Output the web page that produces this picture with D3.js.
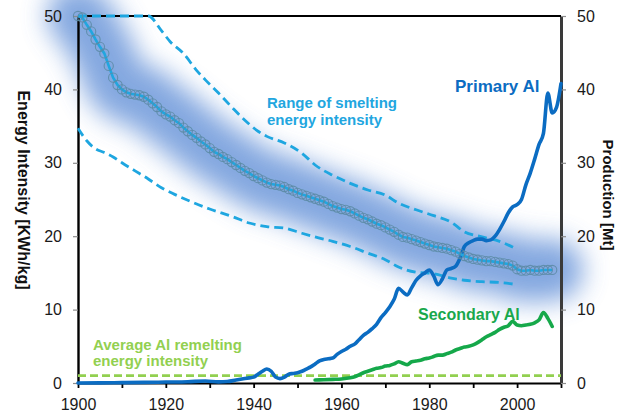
<!DOCTYPE html>
<html>
<head>
<meta charset="utf-8">
<script src="https://cdn.jsdelivr.net/npm/d3@7"></script>
<style>
  html, body { margin: 0; padding: 0; background: #fff; }
  svg { display: block; font-family: "Liberation Sans", Arial, sans-serif; }
</style>
</head>
<body>
<svg id="chart" width="617" height="414"></svg>
<script>
// Average smelting energy intensity, one value per year from 1900
const intensityFirstYear = 1900;
const intensityValues = [
  50.0, 49.8, 48.8, 47.9, 46.8, 45.8, 44.9, 43.2, 41.6, 40.6,
  40.0, 39.6, 39.4, 39.3, 39.2, 39.0, 38.6, 38.1, 37.6, 37.0,
  36.6, 36.3, 35.8, 35.4, 34.8, 34.3, 33.8, 33.4, 32.9, 32.5,
  32.0, 31.5, 31.2, 30.8, 30.5, 30.1, 29.7, 29.3, 28.9, 28.6,
  28.2, 27.9, 27.6, 27.3, 27.1, 27.0, 26.9, 26.7, 26.4, 26.2,
  25.9, 25.7, 25.5, 25.3, 25.1, 24.9, 24.7, 24.4, 24.1, 23.9,
  23.7, 23.6, 23.4, 23.1, 22.8, 22.5, 22.3, 22.0, 21.7, 21.5,
  21.2, 20.9, 20.6, 20.2, 19.9, 19.8, 19.6, 19.4, 19.2, 19.0,
  18.8, 18.6, 18.5, 18.4, 18.3, 18.1, 17.9, 17.6, 17.3, 17.1,
  16.9, 16.8, 16.7, 16.6, 16.6, 16.5, 16.4, 16.3, 16.2, 16.0,
  15.5, 15.3, 15.3, 15.4, 15.3, 15.3, 15.4, 15.4, 15.4
];

// Upper and lower bounds of smelting energy intensity
const rangeHighYears  = [1900, 1916, 1919, 1921, 1924, 1927, 1929, 1932, 1935, 1938, 1941, 1943, 1947, 1951, 1954, 1958, 1962, 1966, 1970, 1973, 1977, 1981, 1985, 1988, 1992, 1996, 2000];
const rangeHighValues = [50.0, 50.0, 48.0, 46.5, 44.9, 42.6, 41.3, 39.5, 37.6, 35.8, 34.3, 33.6, 32.7, 31.3, 29.7, 28.3, 27.2, 26.3, 25.6, 24.5, 23.6, 22.8, 21.9, 20.6, 19.9, 19.3, 18.2];
const rangeLowYears   = [1900, 1902, 1904, 1906, 1908, 1910, 1913, 1916, 1919, 1922, 1925, 1930, 1935, 1939, 1943, 1947, 1951, 1954, 1958, 1962, 1966, 1970, 1973, 1977, 1981, 1985, 1988, 1992, 1996, 2000];
const rangeLowValues  = [34.7, 33.0, 31.9, 31.4, 30.8, 30.0, 28.9, 27.8, 26.6, 25.7, 24.9, 23.7, 22.7, 21.8, 21.3, 21.1, 20.4, 19.9, 19.3, 18.6, 17.7, 16.8, 15.8, 15.1, 14.9, 14.3, 14.0, 13.8, 13.7, 13.4];

// Average remelting energy intensity (KWh/kg)
const remeltingIntensity = 1.0;

// Primary aluminium production (Mt)
const primaryYears = [
  1900, 1905, 1910, 1915, 1920, 1925, 1929, 1932, 1934, 1936, 1937, 1938, 1939, 1940,
  1941, 1942, 1943, 1944, 1945, 1946, 1947, 1948, 1949, 1950, 1951, 1952, 1953, 1954,
  1955, 1956, 1957, 1958, 1959, 1960, 1961, 1962, 1963, 1964, 1965, 1966, 1967, 1968,
  1969, 1970, 1971, 1972, 1973, 1974, 1975, 1976, 1977, 1978, 1979, 1980, 1981, 1982,
  1983, 1984, 1985, 1986, 1987, 1988, 1989, 1990, 1991, 1992, 1993, 1994, 1995, 1996,
  1997, 1998, 1999, 2000, 2001, 2002, 2003, 2004, 2005, 2006, 2007, 2008, 2009, 2010
];
const primaryValues = [
  0.0, 0.02, 0.05, 0.08, 0.13, 0.18, 0.28, 0.15, 0.2, 0.4, 0.5, 0.6, 0.7, 0.8,
  1.2, 1.6, 1.9, 1.6, 0.8, 0.6, 0.8, 1.2, 1.3, 1.4, 1.6, 1.9, 2.2, 2.6,
  3.0, 3.2, 3.3, 3.4, 3.9, 4.3, 4.6, 5.0, 5.3, 5.9, 6.5, 6.9, 7.4, 8.0,
  8.9, 9.6, 10.4, 11.4, 12.9, 12.4, 12.0, 13.0, 14.0, 14.6, 15.0, 15.4, 14.6, 13.4,
  14.2, 15.4, 15.6, 15.9, 17.0, 18.6, 19.1, 19.4, 19.6, 19.6, 19.4, 19.5, 20.0, 20.9,
  22.0, 23.2, 24.0, 24.3, 25.0, 27.0, 28.6, 30.5, 32.5, 34.0, 39.5, 36.8, 37.6, 40.8
];

// Secondary aluminium production (Mt)
const secondaryYears = [
  1954, 1956, 1958, 1960, 1962, 1963, 1964, 1965, 1966, 1967, 1968, 1969, 1970, 1971,
  1972, 1973, 1974, 1975, 1976, 1977, 1978, 1979, 1980, 1981, 1982, 1983, 1984, 1985,
  1986, 1987, 1988, 1989, 1990, 1991, 1992, 1993, 1994, 1995, 1996, 1997, 1998, 1999,
  2000, 2001, 2002, 2003, 2004, 2005, 2006, 2007, 2008
];
const secondaryValues = [
  0.4, 0.45, 0.5, 0.55, 0.7, 0.85, 1.1, 1.4, 1.6, 1.8, 2.0, 2.1, 2.3, 2.4,
  2.6, 2.9, 2.7, 2.5, 2.9, 3.0, 3.1, 3.3, 3.4, 3.6, 3.8, 3.8, 4.0, 4.2,
  4.5, 4.7, 4.9, 5.0, 5.2, 5.5, 5.9, 6.3, 6.6, 6.9, 7.3, 7.6, 7.8, 8.4,
  7.9, 7.8, 7.9, 8.0, 8.2, 8.6, 9.6, 8.8, 7.7
];

// Axis ticks
const xTicks = [1900, 1910, 1920, 1930, 1940, 1950, 1960, 1970, 1980, 1990, 2000, 2010];
const xLabelled = [1900, 1920, 1940, 1960, 1980, 2000];
const yTicks = [0, 10, 20, 30, 40, 50];

const svg = d3.select("#chart");
const m = { left: 78, right: 56, top: 16, bottom: 31 };
const W = 617, H = 414;

const x = d3.scaleLinear().domain([1900, 2010]).range([m.left, W - m.right]);
const yL = d3.scaleLinear().domain([0, 50]).range([H - m.bottom, m.top]);
const yR = d3.scaleLinear().domain([0, 50]).range([H - m.bottom, m.top]);

const intensity = intensityValues.map((v, i) => [intensityFirstYear + i, v]);
const zip = (a, b) => a.map((d, i) => [d, b[i]]);

const lineL = d3.line().x(d => x(d[0])).y(d => yL(d[1]));
const lineR = d3.line().x(d => x(d[0])).y(d => yR(d[1])).curve(d3.curveMonotoneX);

// soft glow behind the intensity trend
const defs = svg.append("defs");
defs.append("filter").attr("id", "glow")
  .attr("x", "-30%").attr("y", "-30%").attr("width", "160%").attr("height", "160%")
  .append("feGaussianBlur").attr("stdDeviation", 13);

svg.append("path")
  .datum(intensity)
  .attr("d", lineL.curve(d3.curveBasis))
  .attr("fill", "none")
  .attr("stroke", "#6592d8")
  .attr("stroke-width", 62)
  .attr("stroke-linecap", "round")
  .attr("stroke-linejoin", "round")
  .attr("opacity", 0.8)
  .attr("filter", "url(#glow)");
lineL.curve(d3.curveLinear);

// axes
const axisFont = g => g.selectAll("text")
  .attr("font-size", 16).attr("fill", "#1a1a1a")
  .attr("font-family", "'Liberation Sans', Arial, sans-serif");

const xAxis = svg.append("g")
  .attr("transform", `translate(0,${H - m.bottom})`)
  .call(d3.axisBottom(x).tickValues(xTicks)
    .tickFormat(d => xLabelled.includes(d) ? d : "")
    .tickSize(5).tickSizeOuter(0).tickPadding(11))
  .call(axisFont);
xAxis.select(".domain").attr("stroke", "#000").attr("stroke-width", 2.2);
xAxis.selectAll(".tick line").attr("stroke", "#000").attr("stroke-width", 1.8);

const yAxisL = svg.append("g")
  .attr("transform", `translate(${m.left},0)`)
  .call(d3.axisLeft(yL).tickValues(yTicks).tickSize(5).tickSizeOuter(0).tickPadding(11))
  .call(axisFont);
yAxisL.select(".domain").attr("stroke", "#000").attr("stroke-width", 2.4);
yAxisL.selectAll(".tick line").attr("stroke", "#8c8c8c").attr("stroke-width", 1.2);

const yAxisR = svg.append("g")
  .attr("transform", `translate(${W - m.right},0)`)
  .call(d3.axisRight(yR).tickValues(yTicks).tickSize(5).tickSizeOuter(0).tickPadding(11))
  .call(axisFont);
yAxisR.select(".domain").attr("stroke", "#3a3a3a").attr("stroke-width", 3);
yAxisR.selectAll(".tick line").attr("stroke", "#8c8c8c").attr("stroke-width", 1.2);

// top frame line
svg.append("line")
  .attr("x1", x(1900)).attr("x2", x(2010))
  .attr("y1", yL(50)).attr("y2", yL(50))
  .attr("stroke", "#000").attr("stroke-width", 2.2);

// remelting reference
svg.append("line")
  .attr("x1", x(1900)).attr("x2", x(2010))
  .attr("y1", yL(remeltingIntensity)).attr("y2", yL(remeltingIntensity))
  .attr("stroke", "#92d050").attr("stroke-width", 2.6)
  .attr("stroke-dasharray", "8,4");

// smelting range bounds
[zip(rangeHighYears, rangeHighValues), zip(rangeLowYears, rangeLowValues)].forEach(s => {
  svg.append("path")
    .datum(s)
    .attr("d", lineL.curve(d3.curveMonotoneX))
    .attr("fill", "none")
    .attr("stroke", "#1ea6e0")
    .attr("stroke-width", 2.8)
    .attr("stroke-dasharray", "9,5");
});
lineL.curve(d3.curveLinear);

// production lines
svg.append("path")
  .datum(zip(secondaryYears, secondaryValues))
  .attr("d", lineR)
  .attr("fill", "none").attr("stroke", "#15a84a")
  .attr("stroke-width", 3.6).attr("stroke-linejoin", "round").attr("stroke-linecap", "round");

svg.append("path")
  .datum(zip(primaryYears, primaryValues))
  .attr("d", lineR)
  .attr("fill", "none").attr("stroke", "#0b6cc2")
  .attr("stroke-width", 3.6).attr("stroke-linejoin", "round").attr("stroke-linecap", "round");

// intensity trend with yearly markers
svg.append("path")
  .datum(intensity)
  .attr("d", lineL)
  .attr("fill", "none").attr("stroke", "#21a6df").attr("stroke-width", 2.6);

svg.append("g").selectAll("circle")
  .data(intensity)
  .join("circle")
  .attr("cx", d => x(d[0]))
  .attr("cy", d => yL(d[1]))
  .attr("r", 4.6)
  .attr("fill", "none")
  .attr("stroke", "#5a8aa3")
  .attr("stroke-width", 1.1)
  .attr("stroke-opacity", 0.85);

// annotations
const note = (lines, xPos, yPos, color, size, lh) => {
  const t = svg.append("text")
    .attr("x", xPos).attr("y", yPos)
    .attr("fill", color).attr("font-size", size).attr("font-weight", "bold");
  lines.forEach((s, i) => t.append("tspan").attr("x", xPos).attr("dy", i ? lh : 0).text(s));
};
note(["Range of smelting", "energy intensity"], 267, 108, "#22a6df", 15, 17);
note(["Primary Al"], 455, 92, "#0b6cc2", 17, 0);
note(["Secondary Al"], 418, 320, "#19a84c", 16, 0);
note(["Average Al remelting", "energy intensity"], 93, 350, "#92d050", 15, 16);

// axis titles
svg.append("text")
  .attr("transform", "translate(18,190) rotate(90)")
  .attr("text-anchor", "middle")
  .attr("font-size", 16).attr("font-weight", "bold").attr("fill", "#111")
  .text("Energy Intensity [KWh/kg]");
svg.append("text")
  .attr("transform", "translate(603,195) rotate(90)")
  .attr("text-anchor", "middle")
  .attr("font-size", 15).attr("font-weight", "bold").attr("fill", "#111")
  .text("Production [Mt]");
</script>
</body>
</html>
